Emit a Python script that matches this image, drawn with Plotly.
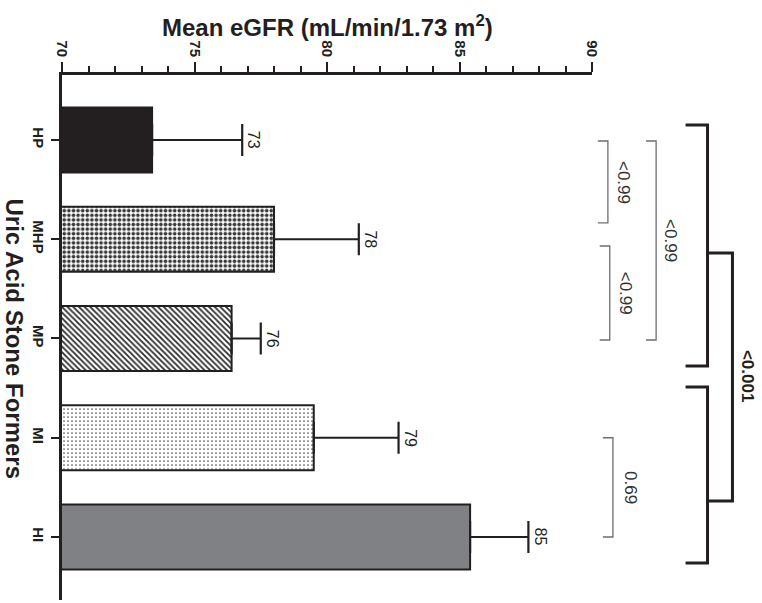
import plotly.graph_objects as go

# ---------------- data ----------------
categories = ["HP", "MHP", "MP", "MI", "HI"]
mean_egfr = [73.4, 78.0, 76.4, 79.5, 85.4]
error_plus = [3.4, 3.2, 1.1, 3.2, 2.2]
value_labels = ["73", "78", "76", "79", "85"]
x_ticks = [70, 75, 80, 85, 90]

# comparison brackets (positions in value / category units) and their p-values
thin_brackets = [
    {"y0": 0.01, "y1": 0.836, "x": 90.6, "label": "<0.99", "lx": 91.17, "ly": 0.423},
    {"y0": 1.068, "y1": 2.015, "x": 90.67, "label": "<0.99", "lx": 91.25, "ly": 1.54},
    {"y0": 0.01, "y1": 2.015, "x": 92.42, "label": "<0.99", "lx": 92.98, "ly": 1.018},
    {"y0": 3.0, "y1": 4.0, "x": 90.79, "label": "0.69", "lx": 91.43, "ly": 3.506},
]
groups = [
    {"y0": -0.151, "y1": 2.277, "mid": 1.139},
    {"y0": 2.489, "y1": 4.262, "mid": 3.637},
]
group_label = {"text": "<0.001", "lx": 95.89, "ly": 2.378}

# ---------------- styles ----------------
XMIN, XMAX = 70, 90
Y_RANGE = [4.635, -0.655]
INK = "#231f20"
FONT = "Liberation Sans, Arial, sans-serif"
bar_styles = [
    dict(color=INK, pattern=None),
    dict(color="#ffffff", pattern=dict(shape=".", fgcolor="#3a3a3c", bgcolor="#ffffff",
                                       size=4.6, solidity=0.5, fillmode="replace")),
    dict(color="#ffffff", pattern=dict(shape="\\", fgcolor="#2a2a2c", bgcolor="#ffffff",
                                       size=4, solidity=0.45, fillmode="replace")),
    dict(color="#ffffff", pattern=dict(shape=".", fgcolor="#555558", bgcolor="#ffffff",
                                       size=4, solidity=0.15, fillmode="replace")),
    dict(color="#808184", pattern=None),
]


def paper_x(v):
    return (v - XMIN) / (XMAX - XMIN)


def paper_y(c):
    return (Y_RANGE[0] - c) / (Y_RANGE[0] - Y_RANGE[1])


fig = go.Figure()

for cat, m, e, st in zip(categories, mean_egfr, error_plus, bar_styles):
    marker = dict(color=st["color"], line=dict(color=INK, width=2))
    if st["pattern"] is not None:
        marker["pattern"] = st["pattern"]
    fig.add_trace(go.Bar(
        x=[m], y=[cat], orientation="h", width=0.655,
        marker=marker,
        error_x=dict(type="data", symmetric=False, array=[e], arrayminus=[0],
                     color=INK, thickness=2.2, width=16),
        hoverinfo="skip", showlegend=False,
    ))

annotations = []
for cat, m, e, lab in zip(categories, mean_egfr, error_plus, value_labels):
    annotations.append(dict(
        x=m + e, y=cat, xref="x", yref="y", text=lab, showarrow=False,
        textangle=90, xanchor="center", yanchor="middle", xshift=12,
        font=dict(family=FONT, size=16, color=INK),
    ))

shapes = []
thin_tick = 0.38
for b in thin_brackets:
    x0 = paper_x(b["x"] - thin_tick)
    x1 = paper_x(b["x"])
    ya = paper_y(b["y0"])
    yb = paper_y(b["y1"])
    shapes.append(dict(
        type="path", xref="paper", yref="paper",
        path=f"M {x0},{ya} L {x1},{ya} L {x1},{yb} L {x0},{yb}",
        line=dict(color="#6d6e71", width=1.3),
    ))
    annotations.append(dict(
        x=paper_x(b["lx"]), y=paper_y(b["ly"]), xref="paper", yref="paper",
        text=b["label"], showarrow=False, textangle=90,
        xanchor="center", yanchor="middle",
        font=dict(family=FONT, size=17, color="#333333"),
    ))

gx = 94.36
gtick = 0.83
gstub = 95.30
for g in groups:
    x0 = paper_x(gx - gtick)
    x1 = paper_x(gx)
    ya = paper_y(g["y0"])
    yb = paper_y(g["y1"])
    shapes.append(dict(
        type="path", xref="paper", yref="paper",
        path=f"M {x0},{ya} L {x1},{ya} L {x1},{yb} L {x0},{yb}",
        line=dict(color=INK, width=3),
    ))
xs0 = paper_x(gx)
xs1 = paper_x(gstub)
ym1 = paper_y(groups[0]["mid"])
ym2 = paper_y(groups[1]["mid"])
shapes.append(dict(
    type="path", xref="paper", yref="paper",
    path=f"M {xs0},{ym1} L {xs1},{ym1} L {xs1},{ym2} L {xs0},{ym2}",
    line=dict(color=INK, width=3),
))
annotations.append(dict(
    x=paper_x(group_label["lx"]), y=paper_y(group_label["ly"]),
    xref="paper", yref="paper", text="<b>" + group_label["text"] + "</b>",
    showarrow=False, textangle=90, xanchor="center", yanchor="middle",
    font=dict(family=FONT, size=17, color=INK),
))

# axis titles
annotations.append(dict(
    x=0.5, y=1 + 49 / 525, xref="paper", yref="paper",
    text="<b>Mean eGFR (mL/min/1.73 m<sup>2</sup>)</b>", showarrow=False,
    xanchor="center", yanchor="middle",
    font=dict(family=FONT, size=24, color=INK),
))
annotations.append(dict(
    x=-47 / 530, y=paper_y(2.0), xref="paper", yref="paper",
    text="<b>Uric Acid Stone Formers</b>", showarrow=False, textangle=90,
    xanchor="center", yanchor="middle",
    font=dict(family=FONT, size=24, color=INK),
))

fig.update_layout(
    width=762, height=603,
    margin=dict(l=62, r=170, t=75, b=3, pad=0, autoexpand=False),
    paper_bgcolor="white", plot_bgcolor="white",
    shapes=shapes,
    annotations=annotations,
    xaxis=dict(
        side="top", range=[XMIN, XMAX], tickvals=x_ticks,
        ticktext=[str(t) for t in x_ticks], automargin=False,
        tickangle=90, ticks="outside", ticklen=10, tickwidth=2, tickcolor=INK,
        minor=dict(dtick=1, ticks="outside", ticklen=6, tickwidth=2, tickcolor=INK, showgrid=False),
        showline=True, linewidth=2.5, linecolor=INK, showgrid=False, zeroline=False,
        tickfont=dict(family=FONT, size=15, color=INK, weight="bold"),
        fixedrange=True,
    ),
    yaxis=dict(
        type="category", categoryorder="array", categoryarray=categories,
        range=Y_RANGE, tickangle=90, ticks="outside", ticklen=8, tickwidth=2,
        tickcolor=INK, showline=True, linewidth=2.5, linecolor=INK,
        showgrid=False, zeroline=False, automargin=False,
        tickfont=dict(family=FONT, size=15, color=INK, weight="bold"),
        fixedrange=True,
    ),
)

fig.write_html(
    "out.html",
    config={"displayModeBar": False},
    post_script="document.body.style.margin='0';document.body.style.overflow='hidden';",
)
